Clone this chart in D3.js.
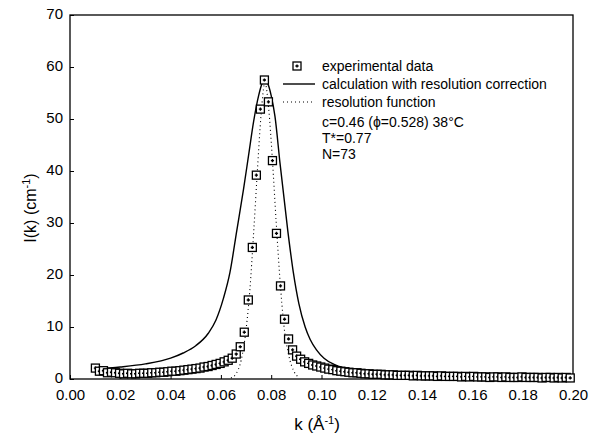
<!DOCTYPE html>
<html>
<head>
<meta charset="utf-8">
<script src="https://cdn.jsdelivr.net/npm/d3@7"></script>
<style>
  body { margin: 0; background: #fff; }
  svg { display: block; font-family: "Liberation Sans", Arial, sans-serif; }
</style>
</head>
<body>
<svg></svg>
<script>
// experimental data (k in 1/Angstrom, I in 1/cm)
const kData = [0.0101, 0.0117, 0.0133, 0.0149, 0.0165, 0.0181, 0.0197, 0.0213, 0.0229, 0.0245,
  0.0261, 0.0277, 0.0293, 0.0309, 0.0325, 0.0341, 0.0357, 0.0373, 0.0389, 0.0405,
  0.0421, 0.0437, 0.0453, 0.0469, 0.0485, 0.0501, 0.0517, 0.0533, 0.0549, 0.0565,
  0.0581, 0.0597, 0.0613, 0.0629, 0.0645, 0.0661, 0.0677, 0.0693, 0.0709, 0.0725,
  0.0741, 0.0757, 0.0773, 0.0789, 0.0805, 0.0821, 0.0837, 0.0853, 0.0869, 0.0885,
  0.0901, 0.0917, 0.0933, 0.0949, 0.0965, 0.0981, 0.0997, 0.1013, 0.1029, 0.1045,
  0.1061, 0.1077, 0.1093, 0.1109, 0.1125, 0.1141, 0.1157, 0.1173, 0.1189, 0.1205,
  0.1221, 0.1237, 0.1253, 0.1269, 0.1285, 0.1301, 0.1317, 0.1333, 0.1349, 0.1365,
  0.1381, 0.1397, 0.1413, 0.1429, 0.1445, 0.1461, 0.1477, 0.1493, 0.1509, 0.1525,
  0.1541, 0.1557, 0.1573, 0.1589, 0.1605, 0.1621, 0.1637, 0.1653, 0.1669, 0.1685,
  0.1701, 0.1717, 0.1733, 0.1749, 0.1765, 0.1781, 0.1797, 0.1813, 0.1829, 0.1845,
  0.1861, 0.1877, 0.1893, 0.1909, 0.1925, 0.1941, 0.1957, 0.1973, 0.1989]
const iData = [2.1, 1.5, 1.6, 1.2, 1.3, 1.2, 1.1, 1.0, 1.1, 1.0,
  1.0, 1.1, 1.1, 1.1, 1.2, 1.2, 1.3, 1.3, 1.4, 1.5,
  1.5, 1.6, 1.7, 1.8, 1.9, 2.0, 2.1, 2.3, 2.4, 2.6,
  2.8, 3.0, 3.3, 3.6, 4.0, 4.8, 6.2, 9.0, 15.2, 25.3,
  39.2, 51.9, 57.5, 53.3, 42.0, 28.0, 17.9, 11.5, 7.7, 5.6,
  4.4, 3.8, 3.3, 3.0, 2.7, 2.5, 2.3, 2.1, 1.9, 1.8,
  1.6, 1.5, 1.4, 1.3, 1.2, 1.2, 1.1, 1.0, 1.0, 0.9,
  0.9, 0.9, 0.8, 0.8, 0.8, 0.7, 0.7, 0.7, 0.7, 0.6,
  0.7, 0.6, 0.6, 0.6, 0.6, 0.5, 0.6, 0.5, 0.5, 0.5,
  0.5, 0.4, 0.5, 0.4, 0.5, 0.4, 0.4, 0.4, 0.3, 0.4,
  0.4, 0.3, 0.4, 0.3, 0.3, 0.3, 0.4, 0.3, 0.3, 0.3,
  0.3, 0.2, 0.3, 0.3, 0.2, 0.3, 0.2, 0.3, 0.2]

// calculation with resolution correction
const kCalc = [0.0100, 0.0200, 0.0300, 0.0400, 0.0450, 0.0500, 0.0550, 0.0580, 0.0610, 0.0636,
  0.0663, 0.0690, 0.0710, 0.0730, 0.0750, 0.0765, 0.0775, 0.0785, 0.0800, 0.0815,
  0.0835, 0.0866, 0.0888, 0.0910, 0.0935, 0.0955, 0.0980, 0.1010, 0.1050, 0.1090,
  0.1150, 0.1200, 0.1300, 0.1400, 0.1600, 0.1800, 0.2000]
const iCalc = [1.9, 2.3, 2.9, 4.0, 5.0, 6.4, 8.8, 11.3, 15.5, 20.5,
  28.5, 36.5, 43.0, 49.5, 54.5, 57.0, 57.6, 57.0, 54.5, 50.5,
  41.5, 28.5, 20.5, 14.5, 10.0, 7.6, 5.6, 4.0, 2.8, 2.1,
  1.5, 1.2, 0.9, 0.75, 0.55, 0.45, 0.35]

// resolution function
const kRes = [0.0640, 0.0660, 0.0680, 0.0700, 0.0715, 0.0730, 0.0745, 0.0760, 0.0775, 0.0790,
  0.0805, 0.0820, 0.0835, 0.0850, 0.0870, 0.0890, 0.0910]
const iRes = [0.2, 1.0, 3.5, 9.5, 17, 28, 40, 51, 57, 52,
  42, 30, 19, 10.5, 4.5, 1.5, 0.3]

const xTicks = [0, 0.02, 0.04, 0.06, 0.08, 0.10, 0.12, 0.14, 0.16, 0.18, 0.20]
const yTicks = [0, 10, 20, 30, 40, 50, 60, 70]
const legendLabels = ['experimental data', 'calculation with resolution correction', 'resolution function']
const infoLines = ['c=0.46 (\u03d5=0.528) 38\u00b0C', 'T*=0.77', 'N=73']

const width = 591
const height = 434
const plotLeft = 70, plotRight = 573, plotTop = 15, plotBottom = 379

const svg = d3.select('svg').attr('width', width).attr('height', height)

const x = d3.scaleLinear().domain([0, 0.2]).range([plotLeft, plotRight])
const y = d3.scaleLinear().domain([0, 70]).range([plotBottom, plotTop])

// axes, ticks inward
const xAxis = d3.axisBottom(x).tickValues(xTicks).tickSize(-4).tickPadding(10)
  .tickFormat(d3.format('.2f'))
const yAxis = d3.axisLeft(y).tickValues(yTicks).tickSize(-4).tickPadding(7)

svg.append('g').attr('transform', `translate(0,${plotBottom})`).call(xAxis)
  .call(g => g.select('.domain').remove())
  .selectAll('text').style('font-size', '15px').attr('fill', '#000')
svg.append('g').attr('transform', `translate(${plotLeft},0)`).call(yAxis)
  .call(g => g.select('.domain').remove())
  .selectAll('text').style('font-size', '15px').attr('fill', '#000').attr('dy', '0.24em')
svg.selectAll('.tick line').attr('stroke', '#000').attr('stroke-width', 1)

svg.append('rect')
  .attr('x', plotLeft).attr('y', plotTop)
  .attr('width', plotRight - plotLeft).attr('height', plotBottom - plotTop)
  .attr('fill', 'none').attr('stroke', '#000').attr('stroke-width', 1.3)

// lines
const line = d3.line().x(d => x(d[0])).y(d => y(d[1])).curve(d3.curveMonotoneX)

svg.append('path')
  .datum(kRes.map((k, i) => [k, iRes[i]]))
  .attr('d', line)
  .attr('fill', 'none').attr('stroke', '#000').attr('stroke-width', 1.1)
  .attr('stroke-dasharray', '1 3')

svg.append('path')
  .datum(kCalc.map((k, i) => [k, iCalc[i]]))
  .attr('d', line)
  .attr('fill', 'none').attr('stroke', '#000').attr('stroke-width', 1.4)

// markers
const s = 8
const drawMarker = (g) => {
  g.append('rect').attr('x', -s / 2).attr('y', -s / 2).attr('width', s).attr('height', s)
    .attr('fill', '#fff').attr('stroke', '#000').attr('stroke-width', 1.3)
  g.append('path').attr('d', 'M-1.6,0H1.6M0,-1.6V1.6')
    .attr('stroke', '#000').attr('stroke-width', 1.4)
}

svg.append('g').selectAll('g')
  .data(kData.map((k, i) => [k, iData[i]]))
  .join('g')
  .attr('transform', d => `translate(${x(d[0])},${y(d[1])})`)
  .each(function() { drawMarker(d3.select(this)) })

// legend
const legend = svg.append('g')
const textX = 322
const rowY = [66, 84, 102]
drawMarker(legend.append('g').attr('transform', `translate(297,${rowY[0]})`))
legend.append('line').attr('x1', 283).attr('x2', 315).attr('y1', rowY[1]).attr('y2', rowY[1])
  .attr('stroke', '#000').attr('stroke-width', 1.4)
legend.append('line').attr('x1', 283).attr('x2', 315).attr('y1', rowY[2]).attr('y2', rowY[2])
  .attr('stroke', '#000').attr('stroke-width', 1.1).attr('stroke-dasharray', '1 3')

legend.selectAll('text.lab')
  .data(legendLabels)
  .join('text')
  .attr('class', 'lab')
  .attr('x', textX).attr('y', (d, i) => rowY[i] + 5)
  .style('font-size', '14px')
  .text(d => d)

legend.selectAll('text.info')
  .data(infoLines)
  .join('text')
  .attr('class', 'info')
  .attr('x', textX).attr('y', (d, i) => [127, 143, 159][i])
  .style('font-size', '14px')
  .text(d => d)

// axis titles
const xt = svg.append('text').attr('x', 317).attr('y', 430)
  .attr('text-anchor', 'middle').style('font-size', '17px')
xt.append('tspan').text('k (\u00c5')
xt.append('tspan').attr('dy', -6).style('font-size', '11px').text('-1')
xt.append('tspan').attr('dy', 6).text(')')

const yt = svg.append('text')
  .attr('transform', 'translate(36,208)rotate(-90)')
  .attr('text-anchor', 'middle').style('font-size', '16px')
yt.append('tspan').text('I(k) (cm')
yt.append('tspan').attr('dy', -6).style('font-size', '11px').text('-1')
yt.append('tspan').attr('dy', 6).text(')')
</script>
</body>
</html>
